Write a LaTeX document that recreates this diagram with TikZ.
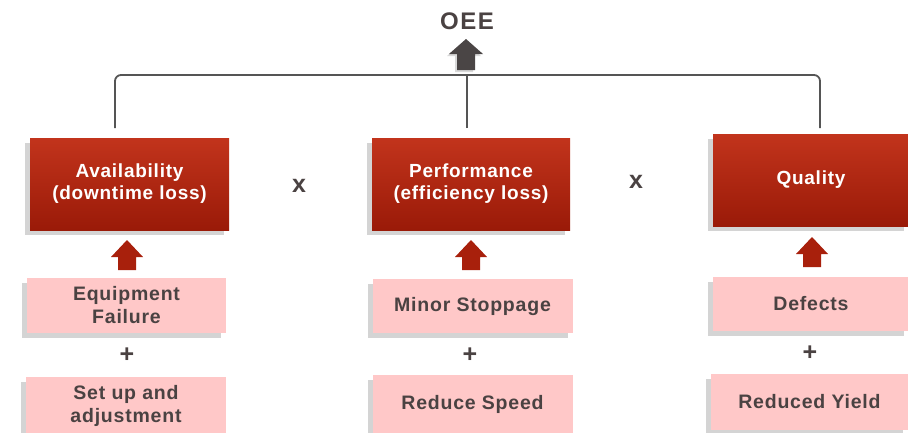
\documentclass[tikz,border=0pt]{standalone}
\usepackage{fontspec}
\setmainfont{Liberation Sans}
\usetikzlibrary{shadows}
\definecolor{redtop}{HTML}{C2341C}
\definecolor{redbot}{HTML}{9A1A08}
\definecolor{pinkbox}{HTML}{FFC8C8}
\definecolor{txtgray}{HTML}{4A4242}
\definecolor{linegray}{HTML}{555555}
\definecolor{arrowred}{HTML}{A8200C}
\definecolor{arrowdark}{HTML}{4A4545}
\tikzset{
  redbox/.style={rectangle, top color=redtop, bottom color=redbot, draw=none,
    text=white, font=\bfseries\fontsize{19}{22}\selectfont\addfontfeature{LetterSpace=4},
    align=center, inner sep=0pt,
    drop shadow={shadow xshift=-5pt, shadow yshift=-5pt, opacity=0.28, fill=black!60}},
  pinkbox/.style={rectangle, fill=pinkbox, draw=none, text=txtgray,
    font=\bfseries\fontsize{19.5}{23}\selectfont\addfontfeature{LetterSpace=4},
    align=center, inner sep=0pt,
    drop shadow={shadow xshift=-5pt, shadow yshift=-5pt, opacity=0.28, fill=black!60}},
  optext/.style={text=txtgray, font=\bfseries\fontsize{25}{26}\selectfont, inner sep=0pt},
  link/.style={draw=linegray, line width=1.8pt, rounded corners=6pt},
  uparrow/.style={fill=arrowred, draw=none},
}
\begin{document}
\begin{tikzpicture}[x=1pt,y=-1pt]
\useasboundingbox (0,0) rectangle (908,432);
% title
\node[text=txtgray, font=\bfseries\fontsize{24}{26}\selectfont\addfontfeature{LetterSpace=6}] (oee) at (467,21) {OEE};
% connectors
\coordinate (l1) at (115,128);
\coordinate (l2) at (467,128);
\coordinate (l3) at (820,128);
\coordinate (top) at (467,75);
\draw[link] (l1) -- (115,75) -- (820,75) -- (l3);
\draw[link] (l2) -- (top);
% big up arrow
\fill[arrowdark, drop shadow={shadow xshift=-2pt, shadow yshift=-2pt, opacity=0.3}]
  (457,70) -- (457,54) -- (449,54) -- (466,39) -- (483,54) -- (475,54) -- (475,70) -- cycle;
% red boxes
\node[redbox, minimum width=199pt, minimum height=92pt] (b1) at (129.5,184) {Availability\\(downtime loss)};
\node[redbox, minimum width=198pt, minimum height=92pt] (b2) at (471,184) {Performance\\(efficiency loss)};
\node[redbox, minimum width=196pt, minimum height=92pt] (b3) at (811,180) {Quality};
% multiply signs
\node[optext] (m1) at (299,186) {x};
\node[optext] (m2) at (636,182) {x};
% small arrows
\foreach \cx/\ty in {127/240, 471/240, 812/237}{
  \fill[uparrow] (\cx-9,\ty+30) -- (\cx-9,\ty+17) -- (\cx-16,\ty+17) -- (\cx,\ty) -- (\cx+16,\ty+17) -- (\cx+9,\ty+17) -- (\cx+9,\ty+30) -- cycle;
}
% pink boxes
\node[pinkbox, minimum width=199pt, minimum height=55pt] (p11) at (126.5,305.5) {Equipment\\Failure};
\node[pinkbox, minimum width=200pt, minimum height=58pt] (p12) at (126,406) {Set up and\\adjustment};
\node[pinkbox, minimum width=200pt, minimum height=54pt] (p21) at (472.5,306) {Minor Stoppage};
\node[pinkbox, minimum width=200pt, minimum height=58pt] (p22) at (472.5,404) {Reduce Speed};
\node[pinkbox, minimum width=196pt, minimum height=54pt] (p31) at (811,304) {Defects};
\node[pinkbox, minimum width=197pt, minimum height=56pt] (p32) at (809.5,402) {Reduced Yield};
% plus signs
\node[optext] (a1) at (127,355) {+};
\node[optext] (a2) at (470,355) {+};
\node[optext] (a3) at (810,353) {+};
\end{tikzpicture}
\end{document}
